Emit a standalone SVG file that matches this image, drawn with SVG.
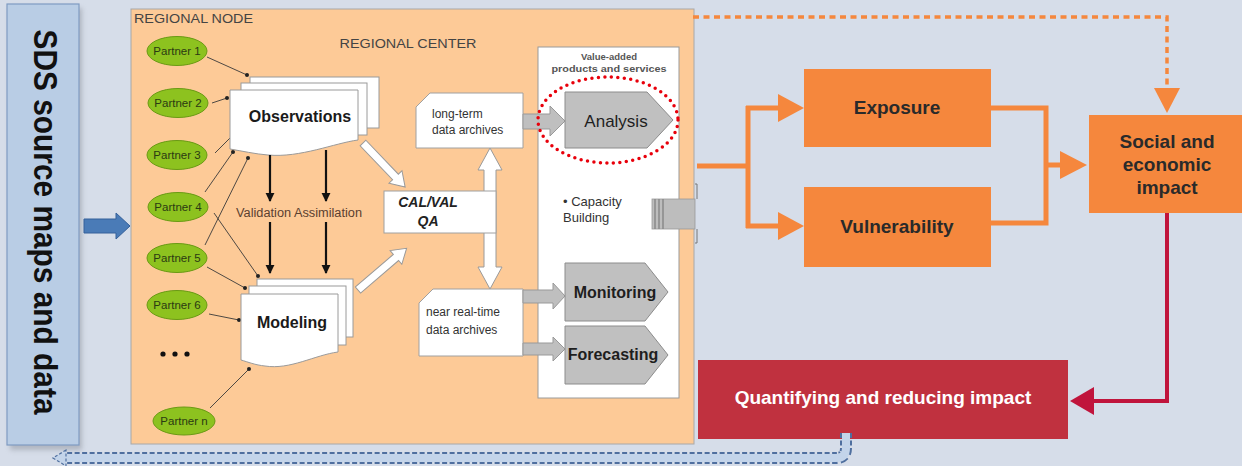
<svg xmlns="http://www.w3.org/2000/svg" width="1242" height="466" viewBox="0 0 1242 466">
<style>
text{font-family:"Liberation Sans",Arial,sans-serif}
.partner ellipse{fill:#8dc21f;stroke:#6a9a14;stroke-width:1}
.partner text{font-size:11.5px;fill:#2b3a12;text-anchor:middle}
.page{fill:#fff;stroke:#9a9a9a;stroke-width:1}
.pline{stroke:#3a3a3a;stroke-width:0.9;fill:none;marker-end:url(#dot)}
.black{stroke:#111;stroke-width:2.2;fill:none;marker-end:url(#tri)}
.warrow{fill:#fff;stroke:#9a9a9a;stroke-width:1}
.garrow{fill:#bfbfbf;stroke:#999;stroke-width:1}
.prod{fill:#c0c0c0;stroke:#8c8c8c;stroke-width:1}
.arch path{fill:#fff;stroke:#a0a0a0;stroke-width:1}
.arch text{font-size:12px;fill:#333}
.orange{fill:#f5873d}
.oline{stroke:#f5873d;stroke-width:5;fill:none}
.otri{fill:#f5873d}
.big{font-size:19px;font-weight:bold;fill:#2a2a2a;text-anchor:middle}
</style>
<defs>
<marker id="dot" viewBox="0 0 6 6" refX="3" refY="3" markerWidth="4" markerHeight="4" markerUnits="userSpaceOnUse"><circle cx="3" cy="3" r="3" fill="#222"/></marker>
<marker id="tri" viewBox="0 0 10 10" refX="9" refY="5" markerWidth="9" markerHeight="10" markerUnits="userSpaceOnUse" orient="auto"><path d="M0,0 L10,5 L0,10 Z" fill="#111"/></marker>
<filter id="sh" x="-20%" y="-5%" width="140%" height="110%"><feGaussianBlur stdDeviation="2.5"/></filter>
</defs>
<rect width="1242" height="466" fill="#d6dde9"/>

<g id="sds">
<rect x="10" y="8" width="72" height="442" fill="#8a8f99" opacity="0.5" filter="url(#sh)"/>
<rect x="7" y="4" width="72" height="441" fill="#b9cde5" stroke="#7f9bc2" stroke-width="1.2"/>
<text transform="translate(43,222) rotate(90) scale(1,1.18)" y="8" font-size="28" font-weight="bold" text-anchor="middle" fill="#111" textLength="385" lengthAdjust="spacingAndGlyphs">SDS source maps and data</text>
</g>

<g id="connectors-outer">
<path d="M84,219 H116 V213 L130,226 L116,239 V233 H84 Z" fill="#4a7bb7" stroke="#35609a" stroke-width="1"/>
</g>

<g id="regional-node">
<rect x="131" y="9" width="563" height="435" fill="#fdca97" stroke="#a8a8a8" stroke-width="1"/>
<text x="134" y="23" font-size="13" fill="#444" textLength="119" lengthAdjust="spacingAndGlyphs">REGIONAL NODE</text>
<text x="408" y="48" font-size="13" fill="#444" text-anchor="middle" textLength="137" lengthAdjust="spacingAndGlyphs">REGIONAL CENTER</text>
</g>

<g id="partner-lines">
<line class="pline" x1="207" y1="57" x2="247" y2="75"/>
<line class="pline" x1="212" y1="103" x2="227" y2="98"/>
<line class="pline" x1="215" y1="153" x2="232" y2="136"/>
<line class="pline" x1="205" y1="192" x2="233" y2="152"/>
<line class="pline" x1="205" y1="245" x2="248" y2="158"/>
<line class="pline" x1="214" y1="213" x2="258" y2="276"/>
<line class="pline" x1="207" y1="267" x2="245" y2="288"/>
<line class="pline" x1="209" y1="314" x2="239" y2="320"/>
<line class="pline" x1="210" y1="408" x2="249" y2="369"/>
</g>

<g id="partner-1" class="partner"><ellipse cx="177" cy="51" rx="30" ry="14.5"/><text x="177" y="55">Partner 1</text></g>
<g id="partner-2" class="partner"><ellipse cx="178" cy="103" rx="30" ry="14.5"/><text x="178" y="107">Partner 2</text></g>
<g id="partner-3" class="partner"><ellipse cx="177" cy="155" rx="30" ry="14.5"/><text x="177" y="159">Partner 3</text></g>
<g id="partner-4" class="partner"><ellipse cx="178" cy="207" rx="30" ry="14.5"/><text x="178" y="211">Partner 4</text></g>
<g id="partner-5" class="partner"><ellipse cx="177" cy="258" rx="30" ry="14.5"/><text x="177" y="262">Partner 5</text></g>
<g id="partner-6" class="partner"><ellipse cx="177" cy="305" rx="30" ry="14.5"/><text x="177" y="309">Partner 6</text></g>
<g id="partner-dots"><circle cx="163" cy="354" r="2.6" fill="#111"/><circle cx="175" cy="354" r="2.6" fill="#111"/><circle cx="187" cy="354" r="2.6" fill="#111"/></g>
<g id="partner-n" class="partner"><ellipse cx="184" cy="421" rx="31" ry="14"/><text x="184" y="425">Partner n</text></g>

<g id="observations">
<rect class="page" x="250" y="77" width="129" height="51"/>
<rect class="page" x="241" y="83" width="126" height="52"/>
<path class="page" d="M230,90 H358 V140 C335,143 300,158 268,155 C255,154 242,151 230,149 Z"/>
<text x="300" y="122" font-size="16" font-weight="bold" fill="#1a1a1a" text-anchor="middle">Observations</text>
</g>

<g id="modeling">
<rect class="page" x="257" y="279" width="96" height="58"/>
<rect class="page" x="249" y="286" width="97" height="59"/>
<path class="page" d="M241,294 H338 V352 C315,355 290,370 265,366 C255,365 248,362 241,360 Z"/>
<text x="292" y="328" font-size="16" font-weight="bold" fill="#1a1a1a" text-anchor="middle">Modeling</text>
</g>

<g id="va-arrows">
<line class="black" x1="270" y1="155" x2="270" y2="201"/>
<line class="black" x1="326" y1="150" x2="326" y2="201"/>
<line class="black" x1="270" y1="222" x2="270" y2="273"/>
<line class="black" x1="326" y1="222" x2="326" y2="273"/>
<text x="299" y="217" font-size="12.5" fill="#5b4030" text-anchor="middle" textLength="126" lengthAdjust="spacingAndGlyphs">Validation Assimilation</text>
</g>

<g id="white-arrows">
<polygon class="warrow" transform="translate(363,143) rotate(46.3)" points="0,-4 47,-4 47,-9 61,0 47,9 47,4 0,4"/>
<polygon class="warrow" transform="translate(358,290) rotate(-40.6)" points="0,-4 50,-4 50,-9 64,0 50,9 50,4 0,4"/>
<path class="warrow" d="M490,148 L502,170 H496 V267 H502 L490,289 L478,267 H484 V170 H478 Z"/>
</g>

<g id="calval">
<rect x="384" y="191" width="112" height="42" fill="#fff" stroke="#a0a0a0" stroke-width="1"/>
<text x="428" y="207" font-size="14" font-weight="bold" font-style="italic" fill="#222" text-anchor="middle">CAL/VAL</text>
<text x="428" y="226" font-size="14" font-weight="bold" font-style="italic" fill="#222" text-anchor="middle">QA</text>
</g>

<g id="long-term" class="arch">
<path d="M430,93 H523 V148 H416 V107 Z"/>
<text x="432" y="118">long-term</text>
<text x="432" y="134">data archives</text>
</g>

<g id="near-real-time" class="arch">
<path d="M433,289 H523 V356 H419 V303 Z"/>
<text x="426" y="316">near real-time</text>
<text x="426" y="334">data archives</text>
</g>

<g id="value-added">
<rect x="538" y="47" width="141" height="351" fill="#fff" stroke="#9a9a9a" stroke-width="1"/>
<text x="609" y="60" font-size="9.5" font-weight="bold" fill="#555" text-anchor="middle">Value-added</text>
<text x="609" y="72" font-size="9.5" font-weight="bold" fill="#555" text-anchor="middle" textLength="115" lengthAdjust="spacingAndGlyphs">products and services</text>
<text x="563" y="206" font-size="13" fill="#333">• Capacity</text>
<text x="563" y="222" font-size="13" fill="#333">Building</text>
</g>

<g id="gray-arrows">
<path class="garrow" d="M523,114 H550 V106 L565,121 L550,136 V129 H523 Z"/>
<path class="garrow" d="M523,290 H553 V283 L565,296 L553,309 V303 H523 Z"/>
<path class="garrow" d="M523,343 H553 V337 L565,349 L553,361 V355 H523 Z"/>
</g>

<g id="analysis">
<path class="prod" d="M565,92 H647 L673,120 L647,148 H565 Z"/>
<text x="616" y="127" font-size="17" fill="#1e1e1e" text-anchor="middle">Analysis</text>
</g>
<g id="monitoring">
<path class="prod" d="M565,263 H645 L668,292 L645,321 H565 Z"/>
<text x="615" y="298" font-size="16" font-weight="bold" fill="#1e1e1e" text-anchor="middle">Monitoring</text>
</g>
<g id="forecasting">
<path class="prod" d="M565,326 H645 L668,355 L645,384 H565 Z"/>
<text x="613" y="360" font-size="16" font-weight="bold" fill="#1e1e1e" text-anchor="middle">Forecasting</text>
</g>

<g id="highlight">
<ellipse cx="608" cy="120" rx="70" ry="43" fill="none" stroke="#e8000b" stroke-width="3.5" stroke-dasharray="0 6.5" stroke-linecap="round"/>
</g>

<g id="capacity-bar">
<rect x="652" y="199" width="43" height="30" fill="#bdbdbd" stroke="#9a9a9a" stroke-width="0.8"/>
<line x1="655" y1="199" x2="655" y2="229" stroke="#8a8a8a" stroke-width="1.5"/>
<line x1="659" y1="199" x2="659" y2="229" stroke="#8a8a8a" stroke-width="1.5"/>
<line x1="663" y1="199" x2="663" y2="229" stroke="#8a8a8a" stroke-width="1.5"/>
<path d="M695,184 H697 V199 M695,243 H697 V229" stroke="#777" stroke-width="1" fill="none"/>
</g>

<g id="exposure">
<rect class="orange" x="804" y="69" width="187" height="78"/>
<text class="big" x="897" y="114">Exposure</text>
</g>
<g id="vulnerability">
<rect class="orange" x="804" y="187" width="187" height="80"/>
<text class="big" x="897" y="233">Vulnerability</text>
</g>
<g id="social">
<rect class="orange" x="1089" y="115" width="153" height="98"/>
<text class="big" x="1167" y="148">Social and</text>
<text class="big" x="1167" y="171">economic</text>
<text class="big" x="1167" y="194">impact</text>
</g>
<g id="quantifying">
<rect x="698" y="360" width="370" height="79" fill="#c0313f"/>
<text x="883" y="404" font-size="19" font-weight="bold" fill="#fff" text-anchor="middle">Quantifying and reducing impact</text>
</g>

<g id="connectors">
<path class="oline" d="M697,166 H748 M748,106 V228 M746,108 H780 M746,226 H780"/>
<polygon class="otri" points="778,94 804,108 778,122"/>
<polygon class="otri" points="778,212 804,226 778,240"/>
<path class="oline" d="M991,108 H1046 V223 H991 M1046,165 H1062"/>
<polygon class="otri" points="1060,151 1087,165 1060,179"/>
<path d="M693,17 H1167 V90" stroke="#f5873d" stroke-width="3.5" fill="none" stroke-dasharray="6 4.5"/>
<polygon class="otri" points="1154,88 1180,88 1167,113"/>
<path d="M1167,213 V401 H1092" stroke="#c0143c" stroke-width="4" fill="none"/>
<polygon points="1094,387 1070,401 1094,415" fill="#c0143c"/>
<path d="M846,433 V448 Q846,458 836,458 H66" stroke="#4f6f9f" stroke-width="12" fill="none" stroke-dasharray="5 2.5"/>
<path d="M846,433 V448 Q846,458 836,458 H64" stroke="#c3d4ea" stroke-width="8" fill="none"/>
<polygon points="66,450 53,458 66,466" fill="#c3d4ea" stroke="#4f6f9f" stroke-width="1.2" stroke-dasharray="3 2"/>
</g>
</svg>
